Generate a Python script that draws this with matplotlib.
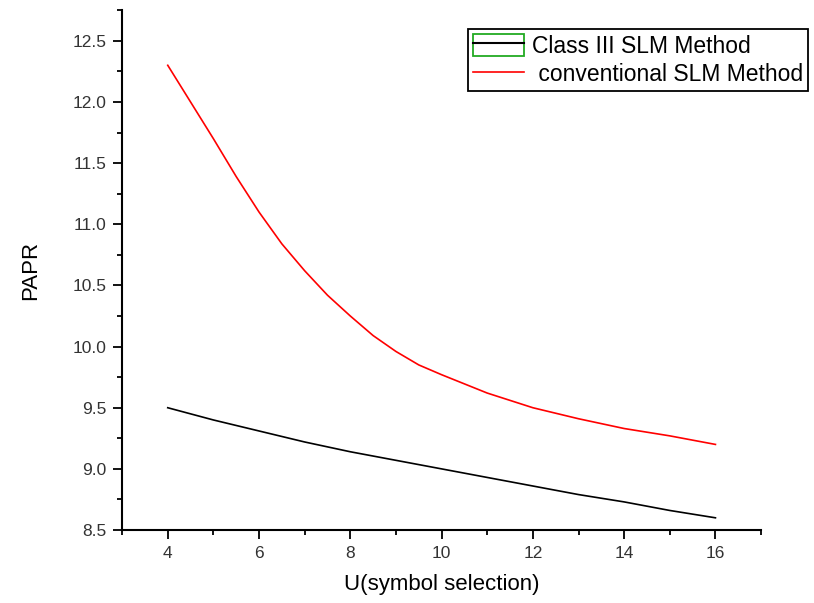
import matplotlib
matplotlib.use("Agg")
import matplotlib.pyplot as plt
from matplotlib.patches import Rectangle
from matplotlib.lines import Line2D
from matplotlib.legend_handler import HandlerTuple
from matplotlib.ticker import MultipleLocator

plt.rcParams['font.family'] = ['Liberation Sans', 'DejaVu Sans']

# values
u_class3 = [4, 5, 6, 7, 8, 9, 10, 11, 12, 13, 14, 15, 16]
papr_class3 = [9.50, 9.40, 9.31, 9.22, 9.14, 9.07, 9.00, 8.93, 8.86, 8.79, 8.73, 8.66, 8.60]
u_conv = [4, 4.5, 5, 5.5, 6, 6.5, 7, 7.5, 8, 8.5, 9, 9.5, 10, 11, 12, 13, 14, 15, 16]
papr_conv = [12.30, 12.00, 11.70, 11.39, 11.10, 10.84, 10.62, 10.42, 10.25, 10.09, 9.96,
             9.85, 9.77, 9.62, 9.50, 9.41, 9.33, 9.27, 9.20]
labels = ['Class III SLM Method', ' conventional SLM Method']

fig = plt.figure(figsize=(8.14, 6.03), dpi=100)
ax = fig.add_axes([0.150, 0.121, 0.785, 0.862])

ax.plot(u_class3, papr_class3, color='black', lw=1.2)
ax.plot(u_conv, papr_conv, color='red', lw=1.2)

ax.set_xlim(3, 17)
ax.set_ylim(8.5, 12.75)
ax.xaxis.set_major_locator(MultipleLocator(2))
ax.xaxis.set_minor_locator(MultipleLocator(1))
ax.yaxis.set_major_locator(MultipleLocator(0.5))
ax.yaxis.set_minor_locator(MultipleLocator(0.25))

for s in ['top', 'right']:
    ax.spines[s].set_visible(False)
for s in ['left', 'bottom']:
    ax.spines[s].set_linewidth(1.5)

ax.tick_params(which='major', direction='out', length=6.5, width=1.3, labelsize=12.5, labelcolor='#333333', pad=5)
ax.tick_params(which='minor', direction='out', length=3.6, width=1.3)

ax.set_xlabel('U(symbol selection)', fontsize=16, labelpad=9)
ax.set_ylabel('PAPR', fontsize=16, labelpad=22)

# legend: green box around the first handle, as in the original
box = Rectangle((0, 0), 1, 1, facecolor='none', edgecolor='#22aa22', lw=1.3)
h1 = Line2D([], [], color='black', lw=1.5)
h2 = Line2D([], [], color='red', lw=1.2)
leg = fig.legend([(box, h1), h2], labels, loc='upper left',
                 bbox_to_anchor=(468 / 814, 1 - 29 / 603), borderaxespad=0,
                 fontsize=16.5, handlelength=2.25, handleheight=1.12, handletextpad=0.35,
                 labelspacing=0.22, borderpad=0.2, fancybox=False, framealpha=1,
                 edgecolor='black', handler_map={tuple: HandlerTuple(ndivide=1)})
leg.get_frame().set_linewidth(1.3)

fig.savefig('out.png', dpi=100)
